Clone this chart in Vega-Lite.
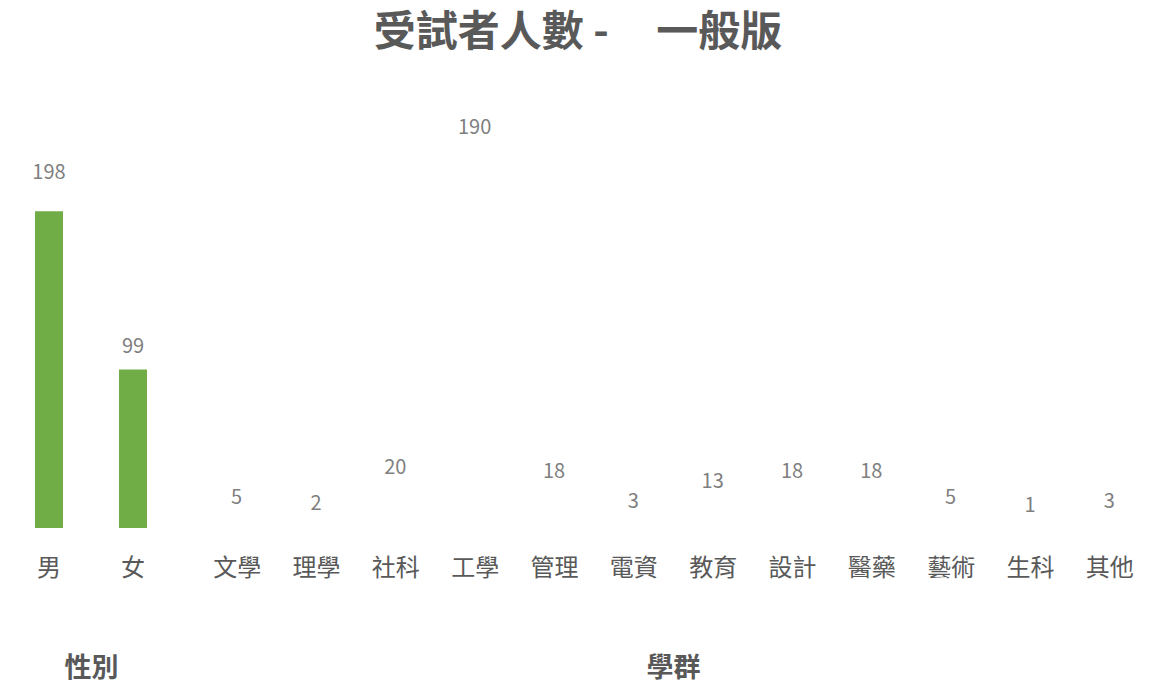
{
  "$schema": "https://vega.github.io/schema/vega-lite/v6.json",
  "background": "white",
  "padding": {"left": 7, "top": 12, "right": 5, "bottom": 0},
  "title": {"text": "受試者人數\u00a0-\u00a0\u00a0\u00a0\u00a0\u00a0一般版", "fontSize": 42, "fontWeight": "bold", "color": "#595959", "font": "Noto Sans CJK TC", "anchor": "middle", "offset": 33},
  "datasets": {
    "gender": [{"g": "男", "n": 198}, {"g": "女", "n": 99}],
    "major": [
      {"m": "文學", "n": 5}, {"m": "理學", "n": 2}, {"m": "社科", "n": 20}, {"m": "工學", "n": 190},
      {"m": "管理", "n": 18}, {"m": "電資", "n": 3}, {"m": "教育", "n": 13}, {"m": "設計", "n": 18},
      {"m": "醫藥", "n": 18}, {"m": "藝術", "n": 5}, {"m": "生科", "n": 1}, {"m": "其他", "n": 3}
    ]
  },
  "spacing": 22,
  "hconcat": [
    {
      "width": 168, "height": 440,
      "data": {"name": "gender"},
      "encoding": {
        "x": {"field": "g", "type": "nominal", "sort": null, "scale": {"paddingInner": 0, "paddingOuter": 0},
              "axis": {"title": "性別", "labelAngle": 0}}
      },
      "layer": [
        {"mark": {"type": "bar", "width": 28, "color": "#70AD47"},
         "encoding": {"y": {"field": "n", "type": "quantitative", "scale": {"domain": [0, 275]}, "axis": null}}},
        {"mark": {"type": "text", "dy": -7, "baseline": "middle", "fontSize": 20, "color": "#7f7f7f", "font": "Noto Sans CJK TC"},
         "encoding": {"y": {"field": "n", "type": "quantitative", "scale": {"domain": [0, 250]}, "axis": null}, "text": {"field": "n", "type": "quantitative"}}}
      ],
      "resolve": {"scale": {"y": "independent"}}
    },
    {
      "width": 952, "height": 440,
      "data": {"name": "major"},
      "mark": {"type": "text", "dy": -20, "baseline": "middle", "fontSize": 20, "color": "#7f7f7f", "font": "Noto Sans CJK TC"},
      "encoding": {
        "x": {"field": "m", "type": "nominal", "sort": null, "scale": {"paddingInner": 0, "paddingOuter": 0},
              "axis": {"title": "學群", "labelAngle": 0}},
        "y": {"field": "n", "type": "quantitative", "scale": {"domain": [0, 220]}, "axis": null},
        "text": {"field": "n", "type": "quantitative"}
      }
    }
  ],
  "config": {
    "view": {"stroke": null},
    "axis": {
      "domain": false, "ticks": false, "grid": false,
      "labelFont": "Noto Sans CJK TC", "labelFontSize": 24, "labelColor": "#595959", "labelPadding": 28,
      "titleFont": "Noto Sans CJK TC", "titleFontSize": 27, "titleFontWeight": "bold", "titleColor": "#595959", "titlePadding": 75
    }
  }
}
